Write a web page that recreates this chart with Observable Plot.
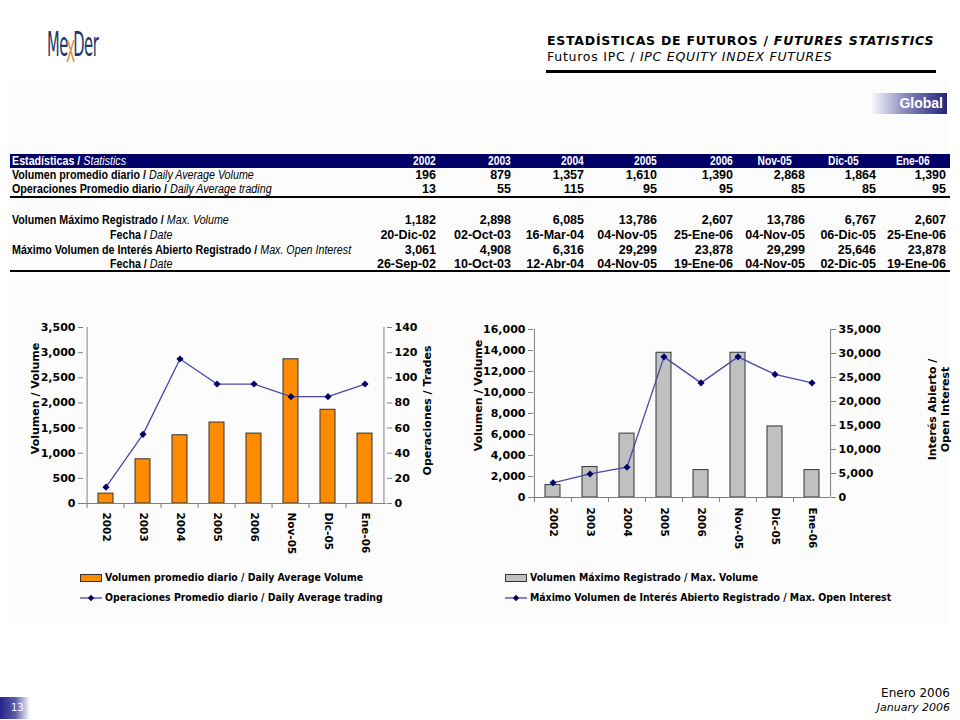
<!DOCTYPE html>
<html><head><meta charset="utf-8">
<script src="https://cdn.jsdelivr.net/npm/d3@7"></script>
<script src="https://cdn.jsdelivr.net/npm/@observablehq/plot@0.6"></script>
<style>
html,body{margin:0;padding:0;}
body{width:960px;height:720px;position:relative;background:#fff;overflow:hidden;font-family:"DejaVu Sans",Verdana,sans-serif;}
.abs{position:absolute;white-space:nowrap;}
#panel{left:8px;top:80px;width:942px;height:545px;background:#fcfcfc;}
#logo{left:47px;top:24px;font-family:"DejaVu Sans Condensed","Liberation Sans",sans-serif;font-size:34px;color:#1d3768;transform:scaleX(0.48);transform-origin:left top;letter-spacing:-1px;}
#logo .x{color:#d98b2b;position:relative;top:6px;font-size:30px;margin:0 -3px;}
#t1{left:547px;top:33px;font-size:12.5px;font-weight:bold;color:#000;letter-spacing:0.75px;}
#t2{left:547px;top:49px;font-size:12.5px;color:#000;letter-spacing:0.75px;}
#rule{left:546px;top:70px;width:390px;height:3px;background:#000;}
#global{left:870px;top:93px;width:77px;height:21px;background:linear-gradient(to right,#ffffff 0%,#8a8ac0 45%,#23237a 100%);}
#global span{position:absolute;right:4px;top:2px;color:#fff;font-family:"Liberation Sans",Arial,sans-serif;font-weight:bold;font-size:14px;}
.tbl{font-family:"Liberation Sans",Arial,sans-serif;font-size:12.5px;font-weight:bold;line-height:14px;}
.lab{transform:scaleX(0.855);transform-origin:left center;}
.hl{transform:scaleX(0.82);transform-origin:left center;}
.hr{transform:scaleX(0.82);transform-origin:right center;}
.tbl i{font-weight:normal;}
.hline{height:2px;background:#000;left:10px;width:940px;}
.leg{font-family:"DejaVu Sans Condensed","DejaVu Sans",sans-serif;font-weight:bold;font-size:10.4px;line-height:12px;color:#000;}
.leg svg{vertical-align:middle;margin-right:3px;}
#page{left:0;top:697px;width:30px;height:22px;background:linear-gradient(to right,#25258a 0%,#5a5aa8 50%,#ffffff 100%);}
#page span{position:absolute;left:11px;top:4px;color:#fff;font-size:11px;font-family:"DejaVu Sans Condensed",sans-serif;}
#f1{right:10px;top:686px;font-size:12px;color:#000;}
#f2{right:10px;top:701px;font-size:11px;font-style:italic;color:#000;}
</style></head><body>
<div id="panel" class="abs"></div>
<div id="logo" class="abs">Me<span class="x">X</span>Der</div>
<div id="t1" class="abs">ESTADÍSTICAS DE FUTUROS / <i>FUTURES STATISTICS</i></div>
<div id="t2" class="abs">Futuros IPC / <i>IPC EQUITY INDEX FUTURES</i></div>
<div id="rule" class="abs"></div>
<div id="global" class="abs"><span>Global</span></div>
<div id="table"></div>
<div id="chartL" class="abs" style="left:20px;top:310px;"></div>
<div id="chartR" class="abs" style="left:460px;top:310px;"></div>
<div id="legL" class="abs leg" style="left:80px;top:571px;"></div>
<div id="legR" class="abs leg" style="left:505px;top:571px;"></div>
<div id="page" class="abs"><span>13</span></div>
<div id="f1" class="abs">Enero 2006</div>
<div id="f2" class="abs">January 2006</div>
<script>
// ---------- DATA ----------
const periods = ["2002","2003","2004","2005","2006","Nov-05","Dic-05","Ene-06"];
const avgVolume = [196, 879, 1357, 1610, 1390, 2868, 1864, 1390];
const avgTrades = [13, 55, 115, 95, 95, 85, 85, 95];
const maxVolume = [1182, 2898, 6085, 13786, 2607, 13786, 6767, 2607];
const maxVolumeDate = ["20-Dic-02","02-Oct-03","16-Mar-04","04-Nov-05","25-Ene-06","04-Nov-05","06-Dic-05","25-Ene-06"];
const maxOpenInterest = [3061, 4908, 6316, 29299, 23878, 29299, 25646, 23878];
const maxOpenInterestDate = ["26-Sep-02","10-Oct-03","12-Abr-04","04-Nov-05","19-Ene-06","04-Nov-05","02-Dic-05","19-Ene-06"];
const leftTicks = [0,500,1000,1500,2000,2500,3000,3500];
const leftTicks2 = [0,20,40,60,80,100,120,140];
const rightTicks = [0,2000,4000,6000,8000,10000,12000,14000,16000];
const rightTicks2 = [0,5000,10000,15000,20000,25000,30000,35000];
const rowLabels = [
  ["Volumen promedio diario","Daily Average Volume"],
  ["Operaciones Promedio diario","Daily Average trading"],
  ["Volumen Máximo Registrado","Max. Volume"],
  ["Fecha","Date"],
  ["Máximo Volumen de Interés Abierto Registrado","Max. Open Interest"],
  ["Fecha","Date"]
];
const fmt = d3.format(",");

// ---------- TABLE ----------
(function(){
  const host = document.getElementById("table");
  const colRight = [436,511,584,657,733,805,876,946];
  let html = "";
  html += `<div class="abs" style="left:10px;top:154px;width:940px;height:14px;background:#000066;"></div>`;
  html += `<div class="abs tbl lab" style="left:12px;top:154px;color:#fff;">Estadísticas / <i>Statistics</i></div>`;
  const hdrPos = [["r",436],["r",511],["r",584],["r",657],["r",733],["r",792],["l",828],["l",896]];
  periods.forEach((p,i)=>{
    const [a,x] = hdrPos[i];
    const pos = a==="r" ? `right:${960-x}px` : `left:${x}px`;
    html += `<div class="abs tbl ${a==="r"?"hr":"hl"}" style="${pos};top:154px;color:#fff;">${p}</div>`;
  });
  const rows = [
    {top:168, lab:rowLabels[0], vals:avgVolume.map(fmt), indent:12},
    {top:182, lab:rowLabels[1], vals:avgTrades.map(fmt), indent:12},
    {top:213, lab:rowLabels[2], vals:maxVolume.map(fmt), indent:12},
    {top:228, lab:rowLabels[3], vals:maxVolumeDate, indent:110},
    {top:243, lab:rowLabels[4], vals:maxOpenInterest.map(fmt), indent:12},
    {top:257, lab:rowLabels[5], vals:maxOpenInterestDate, indent:110}
  ];
  rows.forEach(r=>{
    html += `<div class="abs tbl lab" style="left:${r.indent}px;top:${r.top}px;">${r.lab[0]} / <i>${r.lab[1]}</i></div>`;
    r.vals.forEach((v,i)=>{
      html += `<div class="abs tbl" style="right:${960-colRight[i]}px;top:${r.top}px;">${v}</div>`;
    });
  });
  html += `<div class="abs hline" style="top:196px;"></div>`;
  html += `<div class="abs hline" style="top:270px;"></div>`;
  host.innerHTML = html;
})();

// ---------- CHARTS ----------
function dualChart(o){
  const rows = periods.map((p,i)=>({period:p, bar:o.bars[i], line:o.line[i]}));
  const k = o.yMax / o.y2Max;
  const plotW = o.width - o.ml - o.mr;
  const step = plotW / periods.length;
  const below = o.yMax * 5 / (o.height - o.mt - o.mb);
  const axisStyle = {stroke:"#808080", fill:"#000", fontSize:11, fontWeight:"bold", tickSize:5, tickPadding:3};
  return Plot.plot({
    width:o.width, height:o.height,
    marginLeft:o.ml, marginRight:o.mr, marginTop:o.mt, marginBottom:o.mb,
    style:{fontFamily:"DejaVu Sans, Verdana, sans-serif", fontWeight:"bold", fontSize:"11px", color:"#000", background:"transparent", overflow:"visible"},
    x:{domain:periods, paddingInner:o.pad, paddingOuter:o.pad/2, label:null},
    y:{domain:[0,o.yMax], label:null},
    marks:[
      Plot.barY(rows, {x:"period", y:"bar", fill:o.fill, stroke:"#333", strokeWidth:1}),
      Plot.ruleY([0], {stroke:"#808080"}),
      Plot.ruleX(rows, {x:"period", dx:-step/2, y1:(d,i)=> i===0 ? 0 : -below, y2:(d,i)=> i===0 ? o.yMax : 0, stroke:"#808080"}),
      Plot.ruleX([rows[rows.length-1]], {x:"period", dx:step/2, y1:0, y2:o.yMax, stroke:"#808080"}),
      Plot.ruleX([rows[0]], {x:"period", dx:-step/2, y1:-below, y2:0, stroke:"#808080"}),
      Plot.line(rows, {x:"period", y:d=>d.line*k, stroke:"#4848a8", strokeWidth:1.3}),
      Plot.dot(rows, {x:"period", y:d=>d.line*k, symbol:"diamond2", r:3.2, fill:"#000066", stroke:"none"}),
      Plot.axisY(o.yTicks, {anchor:"left", tickFormat:fmt, ...axisStyle, label:null}),
      Plot.axisY(o.y2Ticks.map(v=>v*k), {anchor:"right", tickFormat:d=>fmt(Math.round(d/k)), ...axisStyle, label:null}),
      Plot.axisX({tickSize:0, tickRotate:90, tickPadding:o.xPad, fontSize:10.5, fontWeight:"bold", fill:"#000", label:null}),
      Plot.text([o.leftLabel], {frameAnchor:"left", textAnchor:"middle", rotate:-90, dx:o.lDx, dy:o.lDy, fontSize:11, fontWeight:"bold", fill:"#000"}),
      Plot.text([o.rightLabel], {frameAnchor:"right", textAnchor:"middle", rotate:-90, dx:o.rDx, dy:o.rDy, fontSize:11, fontWeight:"bold", fill:"#000", lineHeight:1.15})
    ]
  });
}

document.getElementById("chartL").appendChild(dualChart({
  bars:avgVolume, line:avgTrades, yMax:3500, y2Max:140, yTicks:leftTicks, y2Ticks:leftTicks2,
  fill:"#ff8c00", width:420, height:250, ml:63, mr:54, mt:17, mb:57, pad:0.6, xPad:9,
  leftLabel:"Volumen / Volume", lDx:-48, lDy:-17,
  rightLabel:"Operaciones / Trades", rDx:40, rDy:-5
}));
document.getElementById("chartR").appendChild(dualChart({
  bars:maxVolume, line:maxOpenInterest, yMax:16000, y2Max:35000, yTicks:rightTicks, y2Ticks:rightTicks2,
  fill:"#c0c0c0", width:500, height:250, ml:73, mr:130, mt:19, mb:63, pad:0.6, xPad:10,
  leftLabel:"Volumen / Volume", lDx:-55, lDy:-18,
  rightLabel:"Interés Abierto /\nOpen Interest", rDx:108, rDy:-4
}));

// ---------- LEGENDS ----------
function swatch(fill){ return `<svg width="22" height="10"><rect x="0.5" y="1.5" width="21" height="7" fill="${fill}" stroke="#333"/></svg>`; }
function lineIcon(){ return `<svg width="22" height="10"><line x1="0" x2="22" y1="5" y2="5" stroke="#4848a8" stroke-width="1.3"/><path d="M11,1.8L14.2,5L11,8.2L7.8,5Z" fill="#000066"/></svg>`; }
document.getElementById("legL").innerHTML =
  `<div style="margin-bottom:8px">${swatch("#ff8c00")}Volumen promedio diario / Daily Average Volume</div>` +
  `<div>${lineIcon()}Operaciones Promedio diario / Daily Average trading</div>`;
document.getElementById("legR").innerHTML =
  `<div style="margin-bottom:8px">${swatch("#c0c0c0")}Volumen Máximo Registrado / Max. Volume</div>` +
  `<div>${lineIcon()}Máximo Volumen de Interés Abierto Registrado / Max. Open Interest</div>`;
</script>
</body></html>
